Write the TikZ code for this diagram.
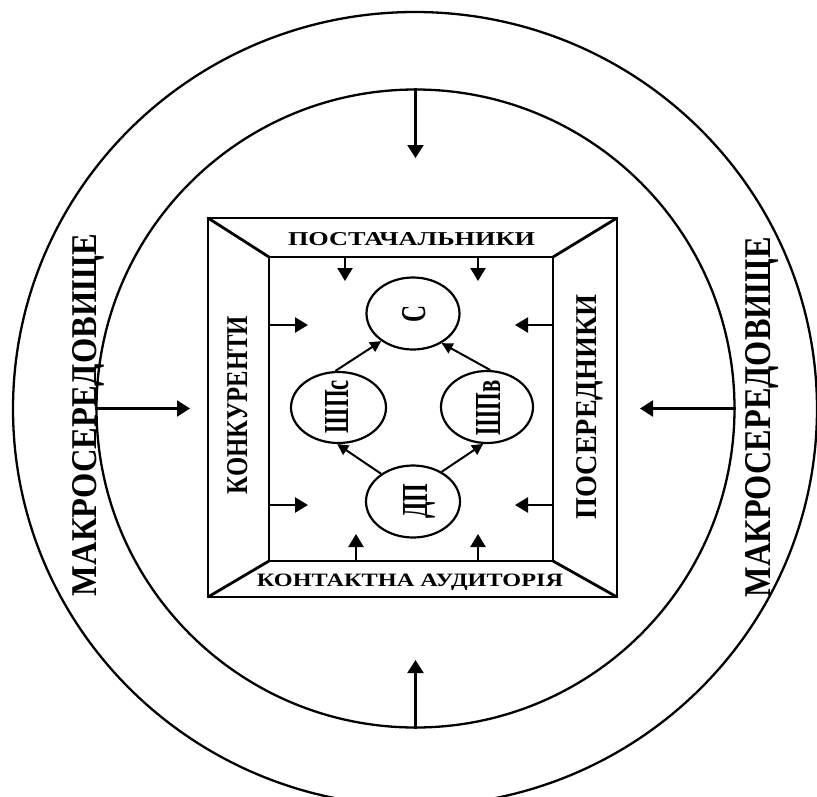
\documentclass[tikz,border=0pt]{standalone}
\usepackage{fontspec}
\setmainfont{Liberation Serif}
\usetikzlibrary{arrows.meta,shapes.geometric}
\newcommand\fitbox[3]{\resizebox{#1pt}{#2pt}{#3}}
\begin{document}
\begin{tikzpicture}[x=1pt,y=-1pt,
  ring/.style={draw, line width=2.3pt},
  frame/.style={draw, line width=2.8pt},
  bigarrow/.style={line width=2.3pt, -{Triangle[length=13pt,width=16pt]}},
  midarrow/.style={line width=2.3pt, -{Triangle[length=13pt,width=15pt]}},
  smallarrow/.style={line width=2pt, -{Triangle[length=11pt,width=11pt]}},
  oval/.style={ellipse, draw, line width=2.2pt, minimum width=93pt, minimum height=72pt, inner sep=0pt},
  lbl/.style={inner sep=0pt, anchor=base, font=\bfseries},
  vlbl/.style={lbl, rotate=90}
]
\useasboundingbox (0,0) rectangle (817,796);
\clip (0,0) rectangle (817,796);
\fill[white] (0,0) rectangle (817,796);

% circles
\node[ellipse, ring, minimum width=804pt, minimum height=794pt, inner sep=0pt] (oc) at (415,409) {};
\node[circle, ring, minimum size=638pt, inner sep=0pt] (ic) at (415.5,408.5) {};

% frame
\coordinate (A) at (208,218);
\coordinate (B) at (617,218);
\coordinate (C) at (617,597);
\coordinate (D) at (208,597);
\coordinate (a) at (269,257);
\coordinate (b) at (553,257);
\coordinate (c) at (553,561);
\coordinate (d) at (269,561);
\draw[frame] (A) rectangle (C);
\draw[frame] (a) rectangle (c);
\draw[frame] (A) -- (a) (B) -- (b) (C) -- (c) (D) -- (d);

% outer arrows
\coordinate (tW) at (190,408.5);
\coordinate (tE) at (640,408.5);
\coordinate (tN) at (415.5,158);
\coordinate (tS) at (415.5,660);
\draw[bigarrow] (ic.west) -- (tW);
\draw[bigarrow] (ic.east) -- (tE);
\draw[bigarrow] (ic.north) -- (tN);
\draw[bigarrow] (ic.south) -- (tS);

% inner frame arrows
\draw[midarrow] (345,257) -- (345,281);
\draw[midarrow] (478,257) -- (478,281);
\draw[midarrow] (356,561) -- (356,534);
\draw[midarrow] (478,561) -- (478,534);
\draw[midarrow] (269,325) -- (308,325);
\draw[midarrow] (269,505) -- (308,505);
\draw[midarrow] (553,325) -- (515,325);
\draw[midarrow] (553,505) -- (515,505);

% ellipses
\node[oval] (S) at (413,313.5) {};
\node[oval, minimum width=95pt, minimum height=71pt] (Shs) at (338.5,407.5) {};
\node[oval, minimum width=92pt] (Shv) at (487,407) {};
\node[oval, minimum width=94pt] (DP) at (413,501.5) {};

\draw[smallarrow] (Shs.95) -- (S.221);
\draw[smallarrow] (Shv.85) -- (S.314);
\draw[smallarrow] (DP.139) -- (Shs.268);
\draw[smallarrow] (DP.46) -- (Shv.264);

% labels
\node[vlbl] (tSl) at (425,313.5) {\fitbox{17}{23}{С}};
\node[vlbl] (tShs) at (348,406.5) {\fitbox{53}{23}{ШПс}};
\node[vlbl] (tShv) at (500,407.5) {\fitbox{55}{24}{ШПв}};
\node[vlbl] (tDP) at (427,501) {\fitbox{35}{24}{ДП}};

\node[lbl] (post) at (411.5,245) {\fitbox{247}{13}{ПОСТАЧАЛЬНИКИ}};
\node[lbl] (kont) at (410,586) {\fitbox{306}{12.5}{КОНТАКТНА АУДИТОРІЯ}};
\node[vlbl] (konk) at (247,405) {\fitbox{178}{20}{КОНКУРЕНТИ}};
\node[vlbl] (poser) at (596,407) {\fitbox{225}{20}{ПОСЕРЕДНИКИ}};
\node[vlbl] (makl) at (96,415) {\fitbox{362}{24}{МАКРОСЕРЕДОВИЩЕ}};
\node[vlbl] (makr) at (770,417) {\fitbox{360}{25}{МАКРОСЕРЕДОВИЩЕ}};
\end{tikzpicture}
\end{document}
